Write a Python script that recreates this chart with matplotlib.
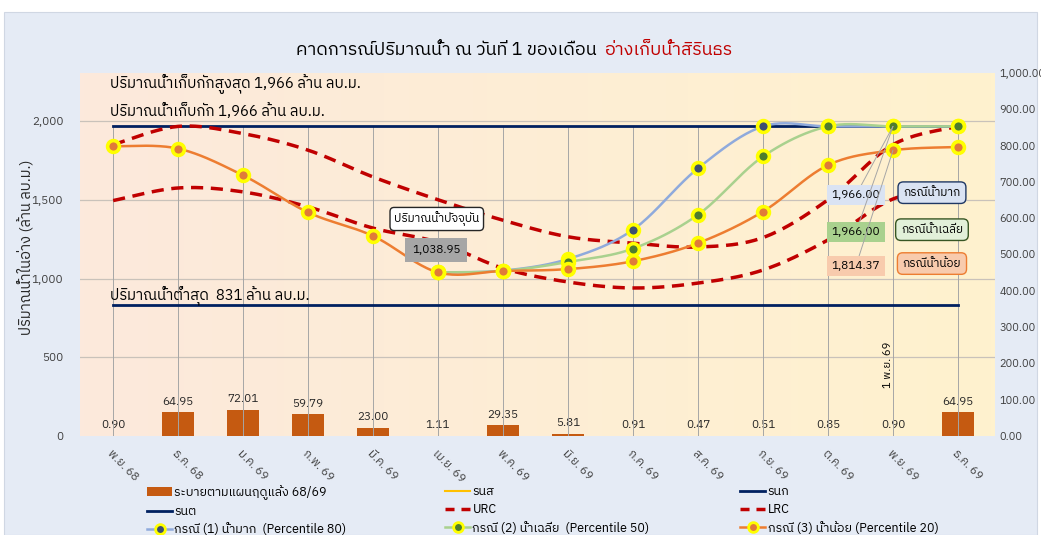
import matplotlib
matplotlib.use('Agg')
import matplotlib.pyplot as plt
from matplotlib import font_manager, ft2font
from matplotlib.lines import Line2D
from matplotlib.patches import Patch, Rectangle
import numpy as np

months = ['พ.ย. 68', 'ธ.ค. 68', 'ม.ค. 69', 'ก.พ. 69', 'มี.ค. 69', 'เม.ย. 69', 'พ.ค. 69',
          'มิ.ย. 69', 'ก.ค. 69', 'ส.ค. 69', 'ก.ย. 69', 'ต.ค. 69', 'พ.ย. 69', 'ธ.ค. 69']
release = [0.90, 64.95, 72.01, 59.79, 23.00, 1.11, 29.35, 5.81, 0.91, 0.47, 0.51, 0.85, 0.90, 64.95]
upper_rule = [1966] * 14
lower_rule = [831] * 14
urc = [1850, 1966, 1920, 1815, 1645, 1500, 1370, 1265, 1225, 1200, 1260, 1500, 1850, 1966]
lrc = [1495, 1575, 1550, 1455, 1320, 1230, 1065, 978, 940, 971, 1054, 1245, 1505, 1575]
case_wet = [None] * 5 + [1038.95, 1050, 1124, 1310, 1700, 1966, 1966, 1966, 1966]
case_avg = [None] * 5 + [1038.95, 1048, 1105, 1190, 1405, 1775, 1966, 1966, 1966]
case_dry = [1840, 1825, 1655, 1420, 1270, 1038.95, 1048, 1060, 1110, 1225, 1425, 1720, 1814.37, 1835]


def thai_font():
    found = []
    for f in font_manager.fontManager.ttflist:
        try:
            if 0x0E01 in ft2font.FT2Font(f.fname).get_charmap():
                found.append(f.name)
        except Exception:
            pass
    for name in found:
        if 'Thai' in name or 'Sans' in name:
            return name
    return found[0] if found else 'DejaVu Sans'


plt.rcParams['font.family'] = [thai_font(), 'DejaVu Sans']


def smooth(ys, n=24):
    # Excel-style smoothed line through the points (Bezier, 1/6 tangents)
    pts = [(i, y) for i, y in enumerate(ys) if y is not None]
    xs = np.array([p[0] for p in pts], float)
    yv = np.array([p[1] for p in pts], float)
    outx, outy = [], []
    t = np.linspace(0, 1, n)
    for i in range(len(xs) - 1):
        a = max(i - 1, 0)
        b = min(i + 2, len(xs) - 1)
        c1x = xs[i] + (xs[i + 1] - xs[a]) / 6
        c1y = yv[i] + (yv[i + 1] - yv[a]) / 6
        c2x = xs[i + 1] - (xs[b] - xs[i]) / 6
        c2y = yv[i + 1] - (yv[b] - yv[i]) / 6
        bx = (1 - t) ** 3 * xs[i] + 3 * (1 - t) ** 2 * t * c1x + 3 * (1 - t) * t ** 2 * c2x + t ** 3 * xs[i + 1]
        by = (1 - t) ** 3 * yv[i] + 3 * (1 - t) ** 2 * t * c1y + 3 * (1 - t) * t ** 2 * c2y + t ** 3 * yv[i + 1]
        outx.extend(bx)
        outy.extend(by)
    return outx, outy, xs, yv


W, H = 1041, 535
fig = plt.figure(figsize=(W / 100, H / 100), dpi=100, facecolor='white')
fig.patches.append(Rectangle((4 / W, 0), 1 - 8 / W, 1 - 12 / H, transform=fig.transFigure,
                             facecolor='#E5EBF5', edgecolor='#D0D7E3', lw=0.8, zorder=-10))

ax2 = fig.add_axes([80 / W, 1 - 436 / H, 915 / W, 363 / H])
ax = ax2.twinx()
ax.yaxis.tick_left()
ax.yaxis.set_label_position('left')
ax2.yaxis.tick_right()
ax.set_zorder(ax2.get_zorder() + 1)
ax.patch.set_visible(False)

x0, x1 = -0.51, 13.57
ax.set_xlim(x0, x1)
ax2.set_xlim(x0, x1)
ax.set_ylim(0, 2305)
ax2.set_ylim(0, 1000)

grad = np.linspace(0, 1, 256)[None, :, None]
c_left = np.array([252, 233, 220]) / 255
c_right = np.array([255, 242, 206]) / 255
img = c_left * (1 - grad) + c_right * grad
ax2.imshow(img, extent=[x0, x1, 0, 1000], aspect='auto', zorder=0)

# bars on the right axis
xs = np.arange(len(months))
bars = ax2.bar(xs, release, width=0.5, color='#C55A11', zorder=2)
ax2.bar_label(bars, fmt='%.2f', padding=4, fontsize=8.5, color='#262626')

# grid
for v in [500, 1000, 1500, 2000]:
    ax.axhline(v, color='#C9C2BA', lw=0.9, zorder=1)
ax.vlines(xs, 0, upper_rule, color='#A6A6A6', lw=0.7, zorder=1)

ax.plot(xs, upper_rule, color='#002060', lw=2, zorder=3)
ax.plot(xs, lower_rule, color='#002060', lw=2, zorder=3)

for ys in (urc, lrc):
    sx, sy, _, _ = smooth(ys)
    ax.plot(sx, sy, color='#C00000', lw=2.5, dashes=(3.5, 2.2), zorder=4)

cases = [(case_wet, '#8FAADC', '#3E5070'),
         (case_avg, '#A9D18E', '#4E7D2E'),
         (case_dry, '#ED7D31', '#E07B39')]
for ys, lc, mc in cases:
    sx, sy, px, py = smooth(ys)
    ax.plot(sx, sy, color=lc, lw=1.8, zorder=5)
    ax.plot(px, py, 'o', ms=8.5, mfc=mc, mec='#FFFF00', mew=2.6, zorder=6)

# axes styling
for a in (ax, ax2):
    for s in a.spines.values():
        s.set_visible(False)
    a.tick_params(length=0, colors='#404040', labelsize=8.5)
ax.set_yticks([0, 500, 1000, 1500, 2000])
ax.set_yticklabels([f'{v:,.0f}' for v in [0, 500, 1000, 1500, 2000]])
ax2.set_yticks(np.arange(0, 1001, 100))
ax2.set_yticklabels([f'{v:,.2f}' for v in np.arange(0, 1001, 100)])
ax.tick_params(axis='y', pad=12)
ax2.tick_params(axis='y', pad=3, labelsize=8)
ax2.set_xticks(xs)
ax2.set_xticklabels(months, rotation=-45, ha='left', va='top', rotation_mode='anchor')
ax2.tick_params(axis='x', pad=9, labelsize=8.5)
ax.tick_params(axis='x', bottom=False, labelbottom=False)
ax.set_ylabel('ปริมาณน้ำในอ่าง (ล้าน ลบ.ม.)', fontsize=10.5, color='#262626')
ax.yaxis.set_label_coords(-46 / 915, 0.52)

# texts
ax.text(-0.05, 2235, 'ปริมาณน้ำเก็บกักสูงสุด 1,966 ล้าน ลบ.ม.', fontsize=10.7, va='center', zorder=7)
ax.text(-0.05, 2064, 'ปริมาณน้ำเก็บกัก 1,966 ล้าน ลบ.ม.', fontsize=10.7, va='center', zorder=7)
ax.text(-0.05, 889, 'ปริมาณน้ำต่ำสุด  831 ล้าน ลบ.ม.', fontsize=10.7, va='center', zorder=7)

ax.text(4.98, 1378, 'ปริมาณน้ำปัจจุบัน', fontsize=8.5, ha='center', va='center', zorder=8,
        bbox=dict(boxstyle='round,pad=0.35', fc='white', ec='#262626', lw=1))
ax.text(4.97, 1181, f'{case_dry[5]:,.2f}', fontsize=8.5, ha='center', va='center', zorder=8,
        bbox=dict(boxstyle='square,pad=0.6', fc='#A6A6A6', ec='none'))

labels = [(case_wet[12], 1530, '#DAE3F3', 'กรณีน้ำมาก', '#DAE3F3', '#1F3864'),
          (case_avg[12], 1295, '#A9D18E', 'กรณีน้ำเฉลี่ย', '#E2F0D9', '#375623'),
          (case_dry[12], 1080, '#F8CBAD', 'กรณีน้ำน้อย', '#F8CBAD', '#ED7D31')]
ys_pt = [case_wet[12], case_avg[12], case_dry[12]]
for (val, yl, bg, name, cfc, cec), yp in zip(labels, ys_pt):
    ax.annotate(f'{val:,.2f}', xy=(12, yp), xytext=(11.43, yl), fontsize=8.5, ha='center', va='center',
                zorder=8, bbox=dict(boxstyle='square,pad=0.4', fc=bg, ec='none'),
                arrowprops=dict(arrowstyle='-', color='#A6A6A6', lw=0.7, shrinkA=0, shrinkB=0))
    ax.text(12.6, yl + 15, name, fontsize=8.5, ha='center', va='center', zorder=8,
            bbox=dict(boxstyle='round,pad=0.45', fc=cfc, ec=cec, lw=1))

ax.text(11.92, 450, '1 พ.ย. 69', rotation=90, fontsize=8, ha='center', va='center', zorder=7)

fig.text(601 / W, 1 - 50 / H, 'คาดการณ์ปริมาณน้ำ ณ วันที่ 1 ของเดือน ', fontsize=13, ha='right', va='center')
fig.text(604 / W, 1 - 50 / H, 'อ่างเก็บน้ำสิรินธร', fontsize=13, color='#C00000', ha='left', va='center')

# legend
h_bar = Patch(fc='#C55A11')
h_rns = Line2D([], [], color='#FFC000', lw=1.5)
h_rnk = Line2D([], [], color='#002060', lw=2)
h_rnt = Line2D([], [], color='#002060', lw=2)
h_urc = Line2D([], [], color='#C00000', lw=2.5, dashes=(2.6, 2))
h_lrc = Line2D([], [], color='#C00000', lw=2.5, dashes=(2.6, 2))
h_c = [Line2D([], [], color=lc, lw=1.8, marker='o', ms=7, mfc=mc, mec='#FFFF00', mew=2)
       for _, lc, mc in cases]
cols = [([h_bar, h_rnt, h_c[0]], ['ระบายตามแผนฤดูแล้ง 68/69', 'รนต', 'กรณี (1) น้ำมาก  (Percentile 80)'], 147),
        ([h_rns, h_urc, h_c[1]], ['รนส', 'URC', 'กรณี (2) น้ำเฉลี่ย  (Percentile 50)'], 445),
        ([h_rnk, h_lrc, h_c[2]], ['รนก', 'LRC', 'กรณี (3) น้ำน้อย (Percentile 20)'], 740)]
for hs, ls, xp in cols:
    fig.legend(hs, ls, loc='upper left', bbox_to_anchor=(xp / W, 1 - 485 / H), frameon=False,
               fontsize=9, borderpad=0, borderaxespad=0, handlelength=2.0, handletextpad=0.2,
               labelspacing=0.42)

fig.savefig('out.png', dpi=100, facecolor=fig.get_facecolor())
